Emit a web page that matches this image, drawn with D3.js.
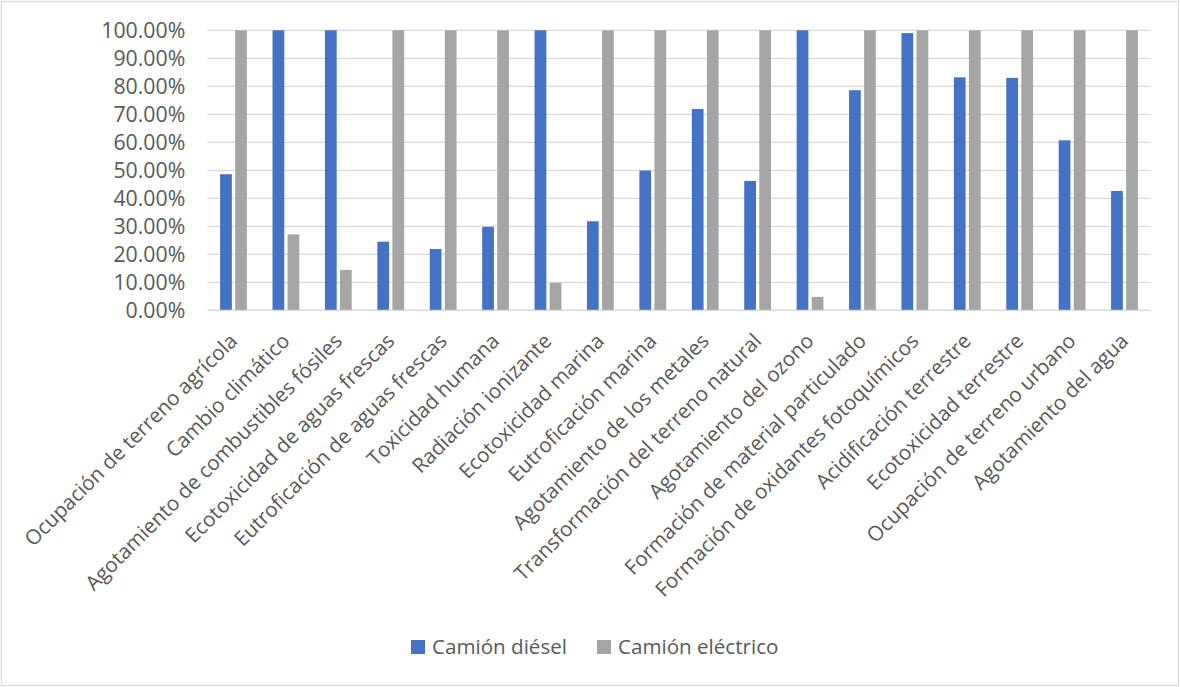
<!DOCTYPE html>
<html lang="es">
<head>
<meta charset="utf-8">
<script src="https://cdn.jsdelivr.net/npm/d3@7"></script>
<style>
  html, body { margin: 0; padding: 0; background: #ffffff; }
  svg { display: block; font-family: "Open Sans", "Noto Sans", sans-serif; }
</style>
</head>
<body>
<svg id="chart" width="1180" height="687"></svg>
<script>
// Impact categories (x axis)
const categories = [
  "Ocupación de terreno agrícola",
  "Cambio climático",
  "Agotamiento de combustibles fósiles",
  "Ecotoxicidad de aguas frescas",
  "Eutroficación de aguas frescas",
  "Toxicidad humana",
  "Radiación ionizante",
  "Ecotoxicidad marina",
  "Eutroficación marina",
  "Agotamiento de los metales",
  "Transformación del terreno natural",
  "Agotamiento del ozono",
  "Formación de material particulado",
  "Formación de oxidantes fotoquímicos",
  "Acidificación terrestre",
  "Ecotoxicidad terrestre",
  "Ocupación de terreno urbano",
  "Agotamiento del agua"
];

// Relative impact (fraction of the larger of the two trucks)
const diesel = [0.486, 1.0, 1.0, 0.245, 0.219, 0.298, 1.0, 0.318, 0.499, 0.719,
                0.462, 1.0, 0.786, 0.990, 0.832, 0.830, 0.607, 0.426];
const electric = [1.0, 0.271, 0.144, 1.0, 1.0, 1.0, 0.098, 1.0, 1.0, 1.0,
                  1.0, 0.048, 1.0, 1.0, 1.0, 1.0, 1.0, 1.0];

const seriesNames = ["Camión diésel", "Camión eléctrico"];
const seriesColors = ["#4472C4", "#A5A5A5"];
const yTicks = [0, 0.1, 0.2, 0.3, 0.4, 0.5, 0.6, 0.7, 0.8, 0.9, 1.0];

const svg = d3.select("#chart");
const W = 1180, H = 687;
const plot = { left: 207.3, right: 1150.7, top: 30.3, bottom: 310.3 };
const textColor = "#595959";
const gridColor = "#D9D9D9";

// Outer chart frame
svg.append("rect")
  .attr("x", 1.5).attr("y", 1.5)
  .attr("width", W - 3).attr("height", H - 3)
  .attr("fill", "#ffffff")
  .attr("stroke", gridColor).attr("stroke-width", 1.3);

const x = d3.scaleBand().domain(categories).range([plot.left, plot.right]).padding(0);
const xSeries = d3.scaleBand().domain(seriesNames).range([-13.4, 13.4]).paddingInner(0.22);
const y = d3.scaleLinear().domain([0, 1]).range([plot.bottom, plot.top]);

// Horizontal gridlines
svg.append("g")
  .selectAll("line")
  .data(yTicks)
  .join("line")
  .attr("x1", plot.left).attr("x2", plot.right)
  .attr("y1", d => y(d)).attr("y2", d => y(d))
  .attr("stroke", gridColor).attr("stroke-width", 1.3);

// Y axis labels
const yAxis = d3.axisLeft(y)
  .tickValues(yTicks)
  .tickFormat(d => (d * 100).toFixed(2) + "%")
  .tickSize(0)
  .tickPadding(22);
const gy = svg.append("g")
  .attr("transform", `translate(${plot.left},0)`)
  .call(yAxis);
gy.select(".domain").remove();
gy.selectAll("text")
  .attr("fill", textColor)
  .style("font-size", "21.3px")
  .style("font-family", "'Open Sans', sans-serif");

// Bars
const rows = categories.map((c, i) => ({ cat: c, values: [diesel[i], electric[i]] }));
const groups = svg.append("g")
  .selectAll("g")
  .data(rows)
  .join("g")
  .attr("transform", d => `translate(${x(d.cat) + x.bandwidth() / 2},0)`);

groups.selectAll("rect")
  .data(d => d.values.map((v, k) => ({ v, s: seriesNames[k], color: seriesColors[k] })))
  .join("rect")
  .attr("x", d => xSeries(d.s))
  .attr("width", xSeries.bandwidth())
  .attr("y", d => y(d.v))
  .attr("height", d => y(0) - y(d.v))
  .attr("fill", d => d.color);

// Category axis (baseline + rotated labels)
const xAxis = d3.axisBottom(x).tickSize(0).tickPadding(0);
const gx = svg.append("g")
  .attr("transform", `translate(0,${plot.bottom})`)
  .call(xAxis);
gx.select(".domain").attr("stroke", gridColor).attr("stroke-width", 1.3)
  .attr("d", `M${plot.left},0H${plot.right}`);
gx.selectAll(".tick text")
  .attr("fill", textColor)
  .style("font-size", "20.6px")
  .style("font-family", "'Open Sans', sans-serif")
  .attr("text-anchor", "end")
  .attr("dy", "0")
  .attr("y", 0)
  .attr("transform", "translate(5,32) rotate(-45)");

// Legend
const legend = svg.append("g").attr("transform", "translate(411,640)");
const legendX = [0, 186];
seriesNames.forEach((name, k) => {
  const g = legend.append("g").attr("transform", `translate(${legendX[k]},0)`);
  g.append("rect").attr("width", 14).attr("height", 14).attr("fill", seriesColors[k]);
  g.append("text")
    .attr("x", 21).attr("y", 14)
    .attr("fill", textColor)
    .style("font-size", "20.6px")
    .text(name);
});
</script>
</body>
</html>
